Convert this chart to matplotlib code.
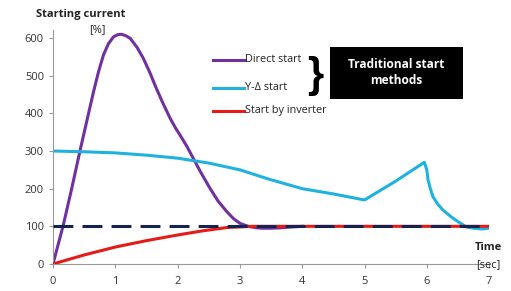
import matplotlib.pyplot as plt
from matplotlib.lines import Line2D

# === Data ===
direct_t = [0, 0.08, 0.165, 0.3, 0.43, 0.55, 0.65, 0.73, 0.81, 0.89, 0.97, 1.04, 1.10, 1.17, 1.24,
            1.35, 1.45, 1.55, 1.66, 1.77, 1.88, 1.96, 2.04, 2.15, 2.25, 2.38, 2.52, 2.65, 2.79,
            2.9, 3.0, 3.08, 3.16, 3.27, 3.37, 3.5, 3.65, 3.8, 4.0]
direct_i = [0, 50, 103, 200, 298, 385, 457, 510, 555, 585, 603, 609, 610, 606, 599,
            575, 546, 510, 466, 425, 387, 363, 342, 312, 281, 241, 201, 167, 139,
            120, 108, 103, 99, 96, 95, 95, 96, 98, 100]

yd_t = [0, 0.5, 1.0, 1.5, 2.0, 2.5, 3.0, 3.45, 4.0, 4.5, 5.0, 5.5, 5.96,
        6.0, 6.02, 6.06, 6.1, 6.18, 6.26, 6.4, 6.53, 6.64, 6.75, 6.89, 7.0]
yd_i = [300, 298, 295, 289, 281, 268, 250, 226, 200, 186, 170, 220, 270,
        250, 223, 198, 178, 158, 143, 124, 109, 98, 95, 93, 95]

inv_t = [0, 0.5, 1.0, 1.5, 2.0, 2.4, 2.8, 3.2, 7]
inv_i = [0, 24, 45, 62, 77, 88, 97, 100, 100]

nominal_t = [0, 7]
nominal_i = [100, 100]

x_ticks = [0, 1, 2, 3, 4, 5, 6, 7]
y_ticks = [0, 100, 200, 300, 400, 500, 600]

PURPLE = '#7030a0'
CYAN = '#1fb2e0'
RED = '#e41b17'
NAVY = '#14234f'

plt.rcParams['font.family'] = ['Open Sans', 'DejaVu Sans']

fig = plt.figure(figsize=(5.11, 2.91), dpi=100)
ax = fig.add_axes([0.1037, 0.0928, 0.8535, 0.8024])

ax.plot(inv_t, inv_i, color=RED, lw=2.2, solid_capstyle='butt', zorder=3)
ax.plot(nominal_t, nominal_i, color=NAVY, lw=2.2, dashes=(6.5, 3), zorder=4)
ax.plot(direct_t, direct_i, color=PURPLE, lw=2.2, zorder=2, solid_joinstyle='round')
ax.plot(yd_t, yd_i, color=CYAN, lw=2.2, zorder=2, solid_joinstyle='round')

ax.set_xlim(0, 7)
ax.set_ylim(0, 620)
ax.set_xticks(x_ticks)
ax.set_yticks(y_ticks)
ax.tick_params(labelsize=8, colors='#333333', length=3, color='#999999')
ax.tick_params(axis='x', pad=6)
for s in ['top', 'right']:
    ax.spines[s].set_visible(False)
for s in ['left', 'bottom']:
    ax.spines[s].set_color('#999999')

# axis titles
fig.text(81 / 511, 1 - 14 / 291, 'Starting current', ha='center', va='center',
         fontsize=8, fontweight='bold', color='#222222')
fig.text(97 / 511, 1 - 30 / 291, '[%]', ha='center', va='center', fontsize=8, color='#222222')
fig.text(488 / 511, 1 - 248 / 291, 'Time', ha='center', va='center',
         fontsize=8, fontweight='bold', color='#222222')
fig.text(488 / 511, 1 - 265 / 291, '[sec]', ha='center', va='center', fontsize=8, color='#222222')

# custom legend
legend_items = [('Direct start', PURPLE, 60), ('Y-Δ start', CYAN, 88), ('Start by inverter', RED, 111)]
for label, col, py in legend_items:
    y = 1 - py / 291
    fig.add_artist(Line2D([213 / 511, 244 / 511], [y, y], color=col, lw=2.2))
    fig.text(245 / 511, y, label, ha='left', va='center', fontsize=7.8, color='#222222')

fig.text(315 / 511, 1 - 76 / 291, '}', ha='center', va='center', fontsize=30,
         color='black', family='Liberation Sans', fontweight='bold')
fig.add_artist(plt.Rectangle((330 / 511, 1 - 99 / 291), 133 / 511, 52 / 291,
                             transform=fig.transFigure, fc='black', ec='none', zorder=1))
fig.text(396 / 511, 1 - 73 / 291, 'Traditional start\nmethods', ha='center', va='center',
         fontsize=8.6, fontweight='bold', color='white', linespacing=1.3, zorder=2)

fig.savefig('out.png', dpi=100)
